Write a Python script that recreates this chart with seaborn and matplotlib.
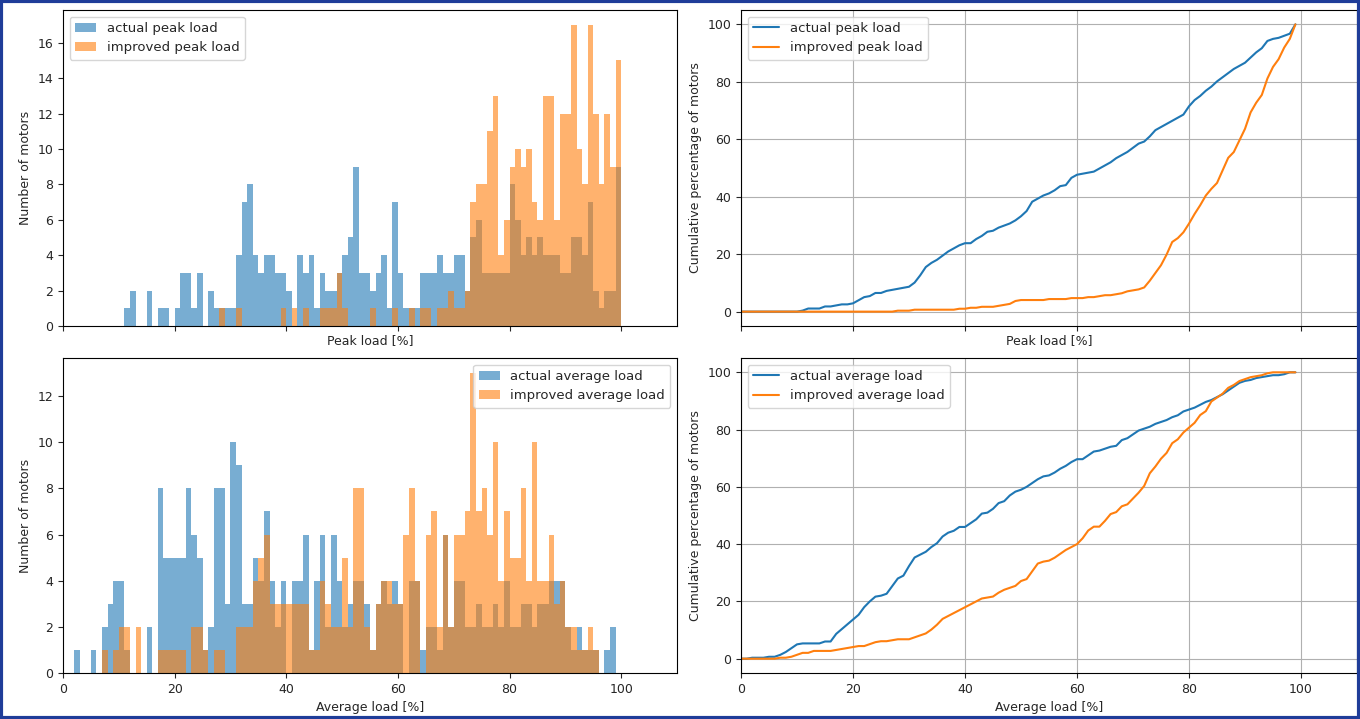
import numpy as np
import pandas as pd
import matplotlib
matplotlib.use("Agg")
import matplotlib.pyplot as plt
import seaborn as sns
from matplotlib.patches import Rectangle

# ---------------- data (counts per 1 % bin, bins 0..99) ----------------
bins = np.arange(100)

actual_peak = np.zeros(100, dtype=int)
actual_peak_vals = {
    11: 1, 12: 2, 15: 2, 17: 1, 18: 1, 20: 1, 21: 3, 22: 3, 23: 1, 24: 3,
    26: 2, 27: 1, 28: 1, 29: 1, 30: 1, 31: 4, 32: 7, 33: 8, 34: 4, 35: 3,
    36: 4, 37: 4, 38: 3, 39: 3, 40: 2, 42: 4, 43: 3, 44: 4, 45: 1, 46: 3,
    47: 2, 48: 2, 49: 3, 50: 4, 51: 5, 52: 9, 53: 3, 54: 3, 55: 2, 56: 3,
    57: 4, 58: 1, 59: 7, 60: 3, 61: 1, 62: 1, 63: 1, 64: 3, 65: 3, 66: 3,
    67: 4, 68: 3, 69: 3, 70: 4, 71: 4, 72: 2, 73: 5, 74: 6, 75: 3, 76: 3,
    77: 3, 78: 3, 79: 3, 80: 8, 81: 6, 82: 4, 83: 5, 84: 4, 85: 5, 86: 4,
    87: 4, 88: 4, 89: 3, 90: 3, 91: 5, 92: 5, 93: 4, 94: 7, 95: 2, 96: 1,
    97: 2, 98: 2, 99: 9,
}
for k, v in actual_peak_vals.items():
    actual_peak[k] = v

improved_peak = np.zeros(100, dtype=int)
improved_peak_vals = {
    28: 1, 31: 1, 39: 1, 41: 1, 43: 1, 46: 1, 47: 1, 48: 1, 49: 3, 50: 1,
    55: 1, 59: 1, 62: 1, 64: 1, 65: 1, 67: 1, 68: 1, 69: 2, 70: 1, 71: 1,
    72: 2, 73: 7, 74: 8, 75: 8, 76: 11, 77: 13, 78: 4, 79: 6, 80: 9, 81: 10,
    82: 9, 83: 10, 84: 7, 85: 6, 86: 13, 87: 13, 88: 6, 89: 12, 90: 12,
    91: 17, 92: 10, 93: 8, 94: 17, 95: 12, 96: 8, 97: 12, 98: 9, 99: 15,
}
for k, v in improved_peak_vals.items():
    improved_peak[k] = v

actual_avg = np.array([
    0, 0, 1, 0, 0, 1, 0, 2, 3, 4,
    4, 1, 0, 0, 0, 2, 0, 8, 5, 5,
    5, 5, 8, 6, 5, 1, 2, 8, 8, 3,
    10, 9, 3, 3, 5, 4, 7, 4, 2, 4,
    0, 4, 4, 6, 1, 4, 6, 2, 6, 4,
    2, 3, 4, 4, 3, 1, 3, 4, 3, 4,
    3, 0, 4, 4, 1, 2, 2, 1, 6, 2,
    4, 4, 2, 2, 3, 2, 2, 3, 2, 4,
    2, 2, 3, 3, 2, 3, 3, 4, 4, 4,
    2, 1, 2, 1, 1, 1, 0, 1, 2, 0,
])

improved_avg = np.array([
    0, 0, 0, 0, 0, 0, 0, 1, 0, 1,
    2, 2, 0, 2, 0, 0, 0, 1, 1, 1,
    1, 1, 0, 2, 2, 1, 0, 1, 1, 0,
    0, 2, 2, 2, 4, 5, 6, 3, 3, 3,
    3, 3, 3, 3, 1, 1, 4, 3, 2, 2,
    5, 2, 8, 8, 2, 1, 3, 4, 4, 3,
    3, 6, 8, 4, 0, 6, 7, 2, 6, 2,
    6, 6, 7, 13, 7, 8, 6, 10, 4, 7,
    5, 5, 8, 4, 10, 4, 4, 6, 3, 4,
    2, 2, 1, 1, 2, 1, 0, 0, 0, 0,
])

labels_peak = ["actual peak load", "improved peak load"]
labels_avg = ["actual average load", "improved average load"]

# ---------------- style ----------------
sns.set_style("ticks")
plt.rcParams["font.family"] = ["DejaVu Sans"]
plt.rcParams["font.size"] = 9
plt.rcParams["axes.labelsize"] = 9
plt.rcParams["xtick.labelsize"] = 9
plt.rcParams["ytick.labelsize"] = 9
plt.rcParams["legend.fontsize"] = 9.5
plt.rcParams["xtick.direction"] = "out"
plt.rcParams["ytick.direction"] = "out"

BLUE = "#1f77b4"
ORANGE = "#ff7f0e"

W, H = 1360, 719
fig = plt.figure(figsize=(W / 100, H / 100), dpi=100)
fig.patch.set_facecolor("white")


def px_axes(l, t, r, b):
    return fig.add_axes([l / W, 1 - b / H, (r - l) / W, (b - t) / H])


ax_tl = px_axes(63, 10, 677, 326)
ax_tr = px_axes(741, 10, 1357, 326)
ax_bl = px_axes(63, 358, 677, 673)
ax_br = px_axes(741, 358, 1357, 673)

centers = bins + 0.5


def hist_panel(ax, a, b, labels, xlabel, legend_loc):
    for counts, color, lab in ((a, BLUE, labels[0]), (b, ORANGE, labels[1])):
        df = pd.DataFrame({"load": centers, "count": counts.astype(float)})
        sns.histplot(data=df, x="load", weights="count", bins=100,
                     binrange=(0, 100), color=color, alpha=0.6,
                     linewidth=0, label=lab, ax=ax)
    ax.set_xlim(0, 110)
    ax.set_xticks([0, 20, 40, 60, 80, 100])
    ax.set_xlabel(xlabel)
    ax.set_ylabel("Number of motors")
    ax.legend(loc=legend_loc, handlelength=1.6)


def cdf_panel(ax, a, b, labels, xlabel):
    ca = np.cumsum(a) / a.sum() * 100
    cb = np.cumsum(b) / b.sum() * 100
    df = pd.DataFrame({"x": np.concatenate([bins, bins]),
                       "y": np.concatenate([ca, cb]),
                       "series": [labels[0]] * 100 + [labels[1]] * 100})
    sns.lineplot(data=df, x="x", y="y", hue="series",
                 palette=[BLUE, ORANGE], linewidth=1.5, ax=ax)
    ax.set_xlim(0, 110)
    ax.set_ylim(-5, 105)
    ax.set_xticks([0, 20, 40, 60, 80, 100])
    ax.set_yticks([0, 20, 40, 60, 80, 100])
    ax.grid(True, color="#b0b0b0", linewidth=0.8)
    ax.set_axisbelow(True)
    ax.set_xlabel(xlabel)
    ax.set_ylabel("Cumulative percentage of motors")
    ax.legend(loc="upper left", title=None)


hist_panel(ax_tl, actual_peak, improved_peak, labels_peak, "Peak load [%]", "upper left")
hist_panel(ax_bl, actual_avg, improved_avg, labels_avg, "Average load [%]", "upper right")
cdf_panel(ax_tr, actual_peak, improved_peak, labels_peak, "Peak load [%]")
cdf_panel(ax_br, actual_avg, improved_avg, labels_avg, "Average load [%]")

ax_tl.tick_params(axis="x", labelbottom=False)
ax_tr.tick_params(axis="x", labelbottom=False)
ax_tl.xaxis.labelpad = 2
ax_tr.xaxis.labelpad = 2

for ax in (ax_tl, ax_tr, ax_bl, ax_br):
    for s in ax.spines.values():
        s.set_color("black")
        s.set_linewidth(0.8)

# outer frame
fig.patches.append(Rectangle((0.001, 0.002), 0.998, 0.996, transform=fig.transFigure,
                             fill=False, edgecolor="#1f3d99", linewidth=3))

fig.savefig("out.png", dpi=100)
